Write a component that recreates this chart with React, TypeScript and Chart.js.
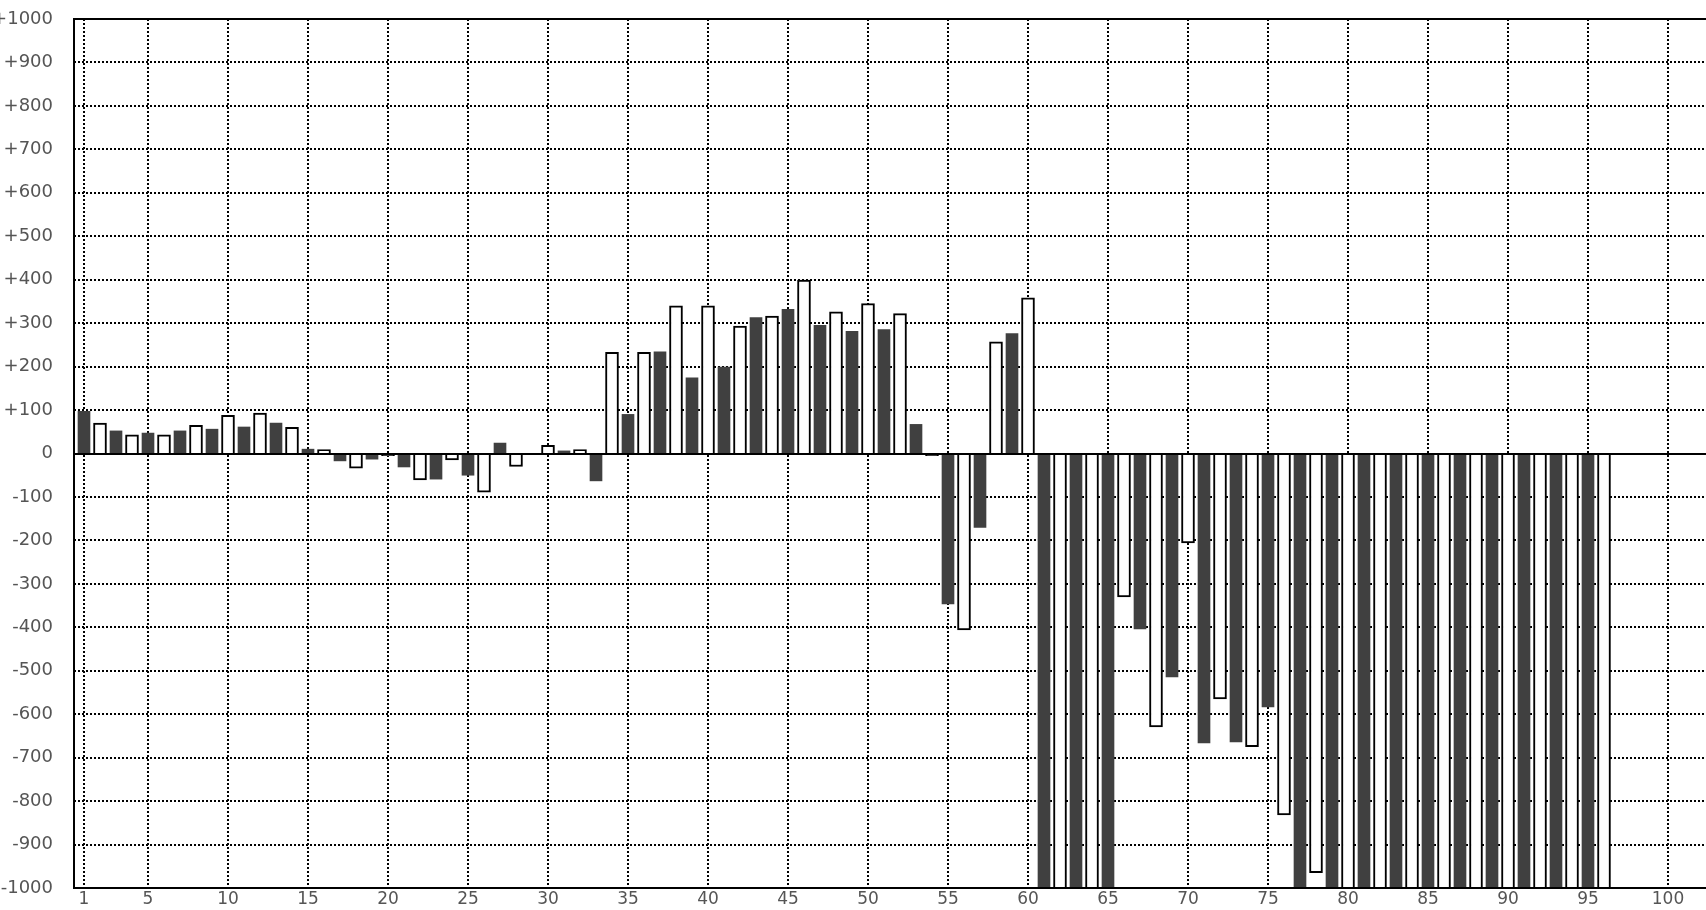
import { useEffect, useRef } from "react";
import { Chart, registerables } from "chart.js";

Chart.register(...registerables);

// Bar values for positions 1..96 (odd = dark bars, even = white bars)
const barValues: number[] = [
  97, 70, 52, 43, 47, 43, 52, 65, 56, 88,
  61, 93, 70, 60, 10, 9, -17, -34, -13, -5,
  -31, -61, -59, -15, -50, -89, 24, -30, 0, 19,
  6, 9, -63, 233, 90, 233, 234, 340, 174, 340,
  199, 293, 313, 316, 332, 399, 295, 326, 281, 345,
  285, 322, 67, -5, -346, -406, -170, 257, 276, 358,
  -1100, -1100, -1100, -1100, -1100, -330, -404, -629, -514, -206,
  -666, -565, -664, -675, -583, -832, -1100, -965, -1100, -1100,
  -1100, -1100, -1100, -1100, -1100, -1100, -1100, -1100, -1100, -1100,
  -1100, -1100, -1100, -1100, -1100, -1100,
];

const xTickValues: number[] = [1, 5, 10, 15, 20, 25, 30, 35, 40, 45, 50, 55, 60, 65, 70, 75, 80, 85, 90, 95, 100];
const yMin = -1000;
const yMax = 1000;
const yStep = 100;

const darkPoints = barValues
  .map((v, i) => ({ x: i + 1, y: v }))
  .filter((p) => p.x % 2 === 1);
const whitePoints = barValues
  .map((v, i) => ({ x: i + 1, y: v }))
  .filter((p) => p.x % 2 === 0);

const gridPlugin = {
  id: "dotgrid",
  beforeDatasetsDraw(chart: any) {
    const { ctx, chartArea, scales } = chart;
    const { left, right, top, bottom } = chartArea;
    ctx.save();
    ctx.beginPath();
    ctx.rect(left, top, right - left, bottom - top);
    ctx.clip();
    ctx.strokeStyle = "#000";
    ctx.lineWidth = 2;
    ctx.lineCap = "butt";
    ctx.setLineDash([2, 2]);
    ctx.beginPath();
    for (const t of scales.y.ticks) {
      if (t.value === 0 || t.value === yMin || t.value === yMax) continue;
      const y = Math.round(scales.y.getPixelForValue(t.value));
      ctx.moveTo(left, y);
      ctx.lineTo(right, y);
    }
    for (const t of scales.x.ticks) {
      const x = Math.round(scales.x.getPixelForValue(t.value));
      ctx.moveTo(x, top);
      ctx.lineTo(x, bottom);
    }
    ctx.stroke();
    ctx.restore();
  },
  afterDatasetsDraw(chart: any) {
    const { ctx, chartArea } = chart;
    const { left, right, top, bottom } = chartArea;
    const y0 = Math.round(chart.scales.y.getPixelForValue(0));
    ctx.save();
    ctx.strokeStyle = "#000";
    ctx.lineWidth = 2;
    ctx.setLineDash([]);
    ctx.beginPath();
    ctx.moveTo(left, y0);
    ctx.lineTo(right, y0);
    ctx.moveTo(left - 1, top);
    ctx.lineTo(right, top);
    ctx.moveTo(left - 1, bottom);
    ctx.lineTo(right, bottom);
    ctx.moveTo(left, top);
    ctx.lineTo(left, bottom);
    ctx.stroke();
    ctx.restore();
  },
};

export default function App() {
  const ref = useRef<HTMLCanvasElement | null>(null);

  useEffect(() => {
    document.body.style.margin = "0";
    const canvas = ref.current;
    if (!canvas) return;
    const chart = new Chart(canvas, {
      type: "bar",
      data: {
        datasets: [
          {
            label: "dark",
            data: darkPoints as any,
            backgroundColor: "#404040",
            borderWidth: 0,
            barThickness: 12,
            grouped: false,
            clip: 0,
          } as any,
          {
            label: "white",
            data: whitePoints as any,
            backgroundColor: "#ffffff",
            borderColor: "#000000",
            borderWidth: 2,
            barThickness: 13,
            grouped: false,
            clip: 0,
          } as any,
        ],
      },
      plugins: [gridPlugin],
      options: {
        animation: false,
        responsive: false,
        maintainAspectRatio: false,
        layout: { padding: { top: 19, left: 0, right: 0, bottom: 0 } },
        plugins: { legend: { display: false }, tooltip: { enabled: false } },
        scales: {
          x: {
            type: "linear",
            offset: false,
            min: 0.375,
            max: 102.375,
            afterBuildTicks: (scale: any) => {
              scale.ticks = xTickValues.map((v) => ({ value: v }));
            },
            afterFit: (scale: any) => {
              scale.height = 22;
            },
            grid: { drawOnChartArea: false, drawTicks: false, offset: false },
            border: { display: false },
            ticks: {
              autoSkip: false,
              maxRotation: 0,
              padding: 1,
              color: "#555",
              font: { family: "'DejaVu Sans', sans-serif", size: 17 },
              callback: (v: any) => String(v),
            },
          },
          y: {
            min: yMin,
            max: yMax,
            afterFit: (scale: any) => {
              scale.width = 74;
            },
            grid: {
              drawOnChartArea: false,
              drawTicks: true,
              tickLength: 21,
              tickColor: "rgba(0,0,0,0)",
            },
            border: { display: false },
            ticks: {
              stepSize: yStep,
              autoSkip: false,
              padding: 0,
              color: "#555",
              font: { family: "'DejaVu Sans', sans-serif", size: 18 },
              callback: (v: any) => (Number(v) > 0 ? "+" + v : String(v)),
            },
          },
        },
      } as any,
    });
    return () => chart.destroy();
  }, []);

  return (
    <canvas
      ref={ref}
      width={1706}
      height={910}
      style={{ display: "block", width: 1706, height: 910 }}
    />
  );
}
